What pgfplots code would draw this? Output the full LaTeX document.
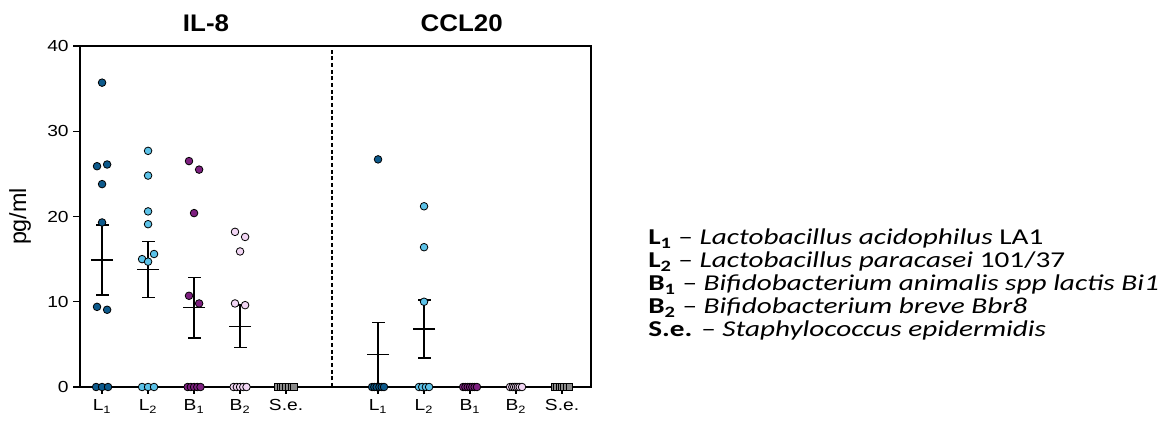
\documentclass[border=0pt]{standalone}
\usepackage{fontspec}
\setmainfont{Liberation Sans}
\newfontfamily\calfont{Carlito}
\usepackage{graphicx}
\usepackage{pgfplots}
\pgfplotsset{compat=1.18}
\definecolor{cL1}{HTML}{0D5A8C}
\definecolor{cL2}{HTML}{5CC2E8}
\definecolor{cB1}{HTML}{7D1F7F}
\definecolor{cB2}{HTML}{F2D6F4}
\definecolor{cSe}{HTML}{8A8A8A}
\newcommand{\xs}[1]{\scalebox{1.2}[1]{#1}}
\pgfplotsset{
  dot/.style={only marks, mark=*, mark size=2.85pt, mark options={draw=black, line width=0.6pt, fill=#1}},
  sq/.style={only marks, mark=square*, mark size=2.6pt, mark options={draw=black, line width=0.6pt, fill=#1}},
}
\begin{document}
\begin{tikzpicture}
\useasboundingbox (-60pt,-25.5pt) rectangle (816.75pt,290.25pt);
\begin{axis}[
  at={(0,0)}, anchor=south west,
  scale only axis, width=383.25pt, height=255.75pt,
  xmin=0.52, xmax=11.63, ymin=0, ymax=40,
  clip=false,
  axis line style={line width=1.2pt},
  tick style={line width=1.1pt, black},
  tick align=outside, tick pos=left,
  major tick length=5pt,
  ytick={0,10,20,30,40},
  yticklabel={\xs{\pgfmathprintnumber{\tick}}},
  xtick={1,2,3,4,5,7,8,9,10,11},
  xticklabels={\xs{L\textsubscript{1}},\xs{L\textsubscript{2}},\xs{B\textsubscript{1}},\xs{B\textsubscript{2}},\xs{S.e.},\xs{L\textsubscript{1}},\xs{L\textsubscript{2}},\xs{B\textsubscript{1}},\xs{B\textsubscript{2}},\xs{S.e.}},
  ticklabel style={font=\fontsize{12}{14}\selectfont},
  /pgf/number format/assume math mode=true,
  xticklabel style={yshift=-1pt},
]
% dashed separator
\draw[line width=0.9pt, dash pattern=on 3pt off 2pt] (axis cs:6,0) -- (axis cs:6,40);
% means with SEM
\addplot[only marks, mark=-, mark size=8.25pt, mark options={line width=1pt, black},
  error bars/.cd, y dir=both, y explicit,
  error bar style={line width=1pt, black},
  error mark=none]
  coordinates {
  (1,14.9) +- (0,4.1)
  (2,13.8) +- (0,3.3)
  (3,9.3) +- (0,3.55)
  (4,7.1) +- (0,2.5)
  (7,3.8) +- (0,3.8)
  (8,6.8) +- (0,3.4)
  };
% error caps (mean +/- SEM)
\addplot[only marks, mark=-, mark size=4.9pt, mark options={line width=1pt, black}]
  coordinates {
  (1,19.0) (1,10.8)
  (2,17.1) (2,10.5)
  (3,12.85) (3,5.75)
  (4,9.6) (4,4.6)
  (7,7.6)
  (8,10.2) (8,3.4)
  };
% IL-8
\addplot[dot=cL1] coordinates {(1,35.7) (0.89,25.9) (1.11,26.1) (1,23.8) (1,19.3) (0.89,9.4) (1.11,9.06) (0.87,0) (1,0) (1.13,0)};
\addplot[dot=cL2] coordinates {(2,27.7) (2,24.8) (2,20.6) (2,19.1) (2.13,15.6) (1.87,15.0) (2,14.7) (1.87,0) (2,0) (2.13,0)};
\addplot[dot=cB1] coordinates {(2.89,26.5) (3.11,25.5) (3,20.4) (2.89,10.7) (3.11,9.8) (2.86,0) (2.93,0) (3,0) (3.07,0) (3.14,0)};
\addplot[dot=cB2] coordinates {(3.89,18.2) (4.11,17.6) (4,15.9) (3.89,9.8) (4.11,9.6) (3.86,0) (3.93,0) (4,0) (4.07,0) (4.14,0)};
\addplot[sq=cSe] coordinates {(4.82,0) (4.88,0) (4.94,0) (5,0) (5.06,0) (5.12,0) (5.18,0)};
% CCL20
\addplot[dot=cL1] coordinates {(7,26.7) (6.87,0) (6.92,0) (6.97,0) (7.03,0) (7.08,0) (7.13,0)};
\addplot[dot=cL2] coordinates {(8,21.2) (8,16.4) (8,10.0) (7.89,0) (7.96,0) (8.04,0) (8.11,0)};
\addplot[dot=cB1] coordinates {(8.85,0) (8.9,0) (8.95,0) (9,0) (9.05,0) (9.1,0) (9.15,0)};
\addplot[dot=cB2] coordinates {(9.87,0) (9.92,0) (9.96,0) (10,0) (10.04,0) (10.08,0) (10.13,0)};
\addplot[sq=cSe] coordinates {(10.84,0) (10.89,0) (10.95,0) (11,0) (11.05,0) (11.11,0) (11.16,0)};
% titles
\node[font=\bfseries\fontsize{18}{20}\selectfont] at ([yshift=17pt]axis cs:3.26,40) {\scalebox{1.08}[1]{IL-8}};
\node[font=\bfseries\fontsize{18}{20}\selectfont] at ([yshift=17pt]axis cs:8.82,40) {\scalebox{1.08}[1]{CCL20}};
\end{axis}
\node[rotate=90, font=\fontsize{17.5}{19}\selectfont] at (-45pt,127.9pt) {pg/ml};
\node[anchor=west, inner sep=0pt] at (426pt,75.75pt) {\scalebox{1.29}[1]{%
\calfont\fontsize{17}{17.25}\selectfont
\begin{tabular}{@{}l@{}}
\textbf{L\textsubscript{1}} – \textit{Lactobacillus acidophilus} LA1\\
\textbf{L\textsubscript{2}} – \textit{Lactobacillus paracasei} 101/37\\
\textbf{B\textsubscript{1}} – \textit{Bifidobacterium animalis spp lactis Bi1}\\
\textbf{B\textsubscript{2}} – \textit{Bifidobacterium breve Bbr8}\\
\textbf{S.e.} – \textit{Staphylococcus epidermidis}
\end{tabular}}};
\end{tikzpicture}
\end{document}
